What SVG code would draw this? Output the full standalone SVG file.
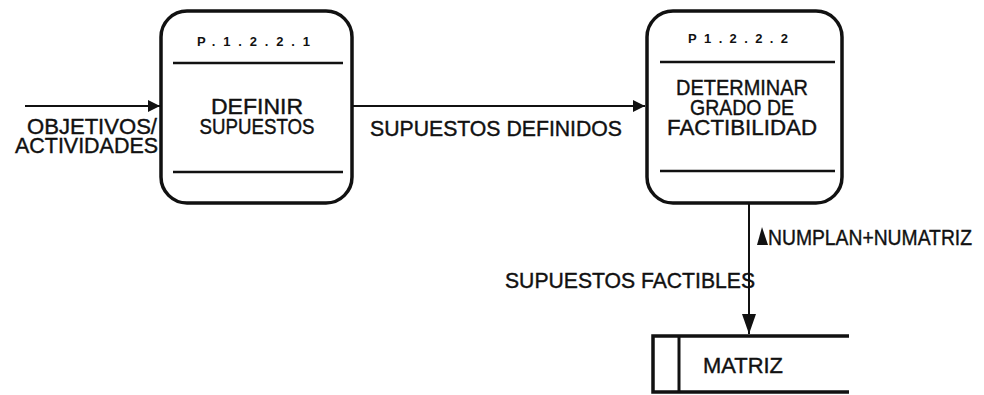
<svg xmlns="http://www.w3.org/2000/svg" width="984" height="395" viewBox="0 0 984 395">
<defs>
<style>
.box{fill:#fff;stroke:#111;stroke-width:3.5}
.div{stroke:#111;stroke-width:2.5}
.ln{stroke:#111;stroke-width:2;fill:none}
.t{font-family:"Liberation Sans",Arial,sans-serif;font-size:22px;fill:#111;stroke:#111;stroke-width:0.4}
.h{font-family:"Liberation Sans",Arial,sans-serif;font-size:13px;font-weight:bold;fill:#111}
.m{text-anchor:middle}
</style>
<marker id="ah" viewBox="0 0 12 12" refX="12" refY="6" markerWidth="12" markerHeight="12" markerUnits="userSpaceOnUse" orient="auto">
<path d="M0,0 L12,6 L0,12 Z" fill="#111"/>
</marker>
</defs>
<rect width="984" height="395" fill="#fff"/>
<g id="connectors">
<line class="ln" x1="25" y1="106" x2="160" y2="106" marker-end="url(#ah)"/>
<line class="ln" x1="353" y1="106" x2="645" y2="106" marker-end="url(#ah)"/>
<line class="ln" x1="749" y1="203" x2="749" y2="334"/>
<path d="M742,314 L756,314 L749,334 Z" fill="#111"/>
<text class="t" x="27" y="134" textLength="130" lengthAdjust="spacingAndGlyphs">OBJETIVOS/</text>
<text class="t" x="15" y="153" textLength="143" lengthAdjust="spacingAndGlyphs">ACTIVIDADES</text>
<text class="t" x="370" y="136" textLength="252" lengthAdjust="spacingAndGlyphs">SUPUESTOS DEFINIDOS</text>
<path d="M757,245 L762,227 L768,245 Z" fill="#111"/>
<text class="t" x="768" y="245" textLength="204" lengthAdjust="spacingAndGlyphs">NUMPLAN+NUMATRIZ</text>
<text class="t" x="505" y="288" textLength="250" lengthAdjust="spacingAndGlyphs">SUPUESTOS FACTIBLES</text>
</g>
<g id="p12221">
<rect class="box" x="161" y="11" width="191" height="192" rx="26"/>
<line class="div" x1="173" y1="63" x2="343" y2="63"/>
<line class="div" x1="173" y1="172" x2="343" y2="172"/>
<text class="h" x="197" y="46" textLength="113" lengthAdjust="spacing">P.1.2.2.1</text>
<text class="t m" x="257" y="114" textLength="92" lengthAdjust="spacingAndGlyphs">DEFINIR</text>
<text class="t m" x="257" y="134" textLength="115" lengthAdjust="spacingAndGlyphs">SUPUESTOS</text>
</g>
<g id="p12222">
<rect class="box" x="647" y="11" width="195" height="192" rx="26"/>
<line class="div" x1="660" y1="62" x2="835" y2="62"/>
<line class="div" x1="660" y1="171" x2="835" y2="171"/>
<text class="h" x="688" y="43" textLength="100" lengthAdjust="spacing">P1.2.2.2</text>
<text class="t m" x="742" y="95" textLength="132" lengthAdjust="spacingAndGlyphs">DETERMINAR</text>
<text class="t m" x="742" y="115" textLength="104" lengthAdjust="spacingAndGlyphs">GRADO DE</text>
<text class="t m" x="742" y="135" textLength="150" lengthAdjust="spacingAndGlyphs">FACTIBILIDAD</text>
</g>
<g id="matriz">
<path d="M849,336 L653,336 L653,392 L849,392" fill="none" stroke="#111" stroke-width="3.5"/>
<line x1="679" y1="336" x2="679" y2="392" stroke="#111" stroke-width="3"/>
<text class="t" x="703" y="373" textLength="80" lengthAdjust="spacingAndGlyphs">MATRIZ</text>
</g>
</svg>
